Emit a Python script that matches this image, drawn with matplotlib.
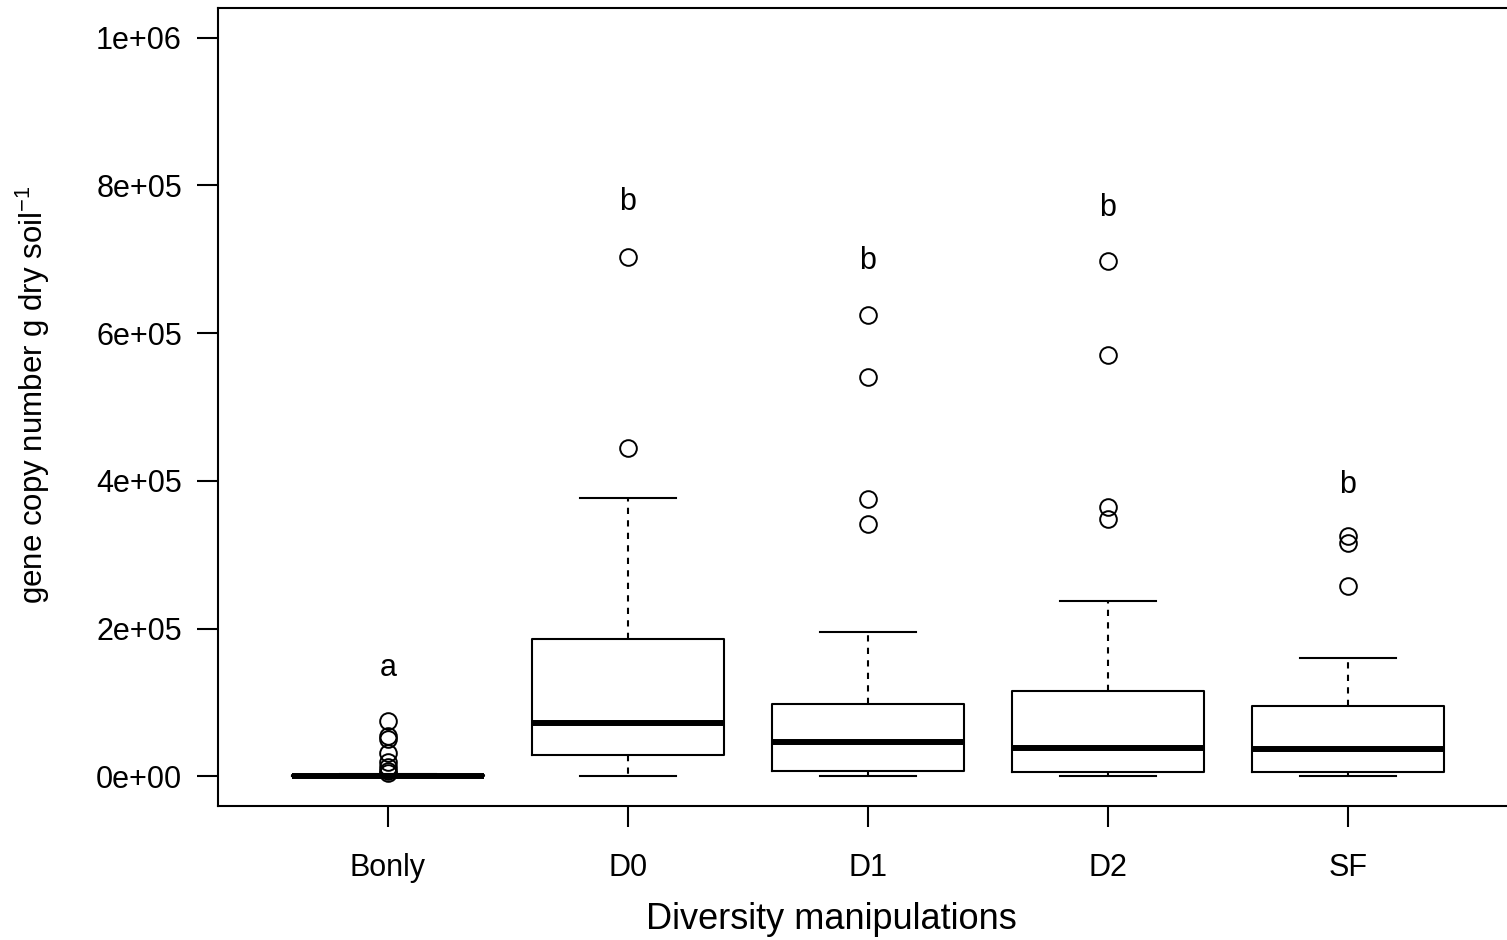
import numpy as np
import matplotlib.pyplot as plt

plt.rcParams["font.family"] = ["Liberation Sans", "DejaVu Sans"]

# ==========================================
# DATA
# ==========================================

groups = ["Bonly", "D0", "D1", "D2", "SF"]

q1 = [0, 28500, 6800, 5400, 5400]
med = [300, 73000, 46000, 39000, 36500]
q3 = [1500, 185500, 97500, 116000, 95000]
whislo = [0, 0, 0, 0, 0]
whishi = [3000, 377500, 195000, 237000, 160000]

outliers = [
    [75000, 55000, 51000, 32000, 20000, 13000, 8000, 4000],
    [445000, 703500],
    [341000, 376000, 541000, 624000],
    [348000, 365000, 570000, 697000],
    [258000, 316500, 326000],
]

letters = ["a", "b", "b", "b", "b"]
letter_y = [147000, 778000, 697000, 770000, 395000]

# ==========================================
# PLOT
# ==========================================

fig = plt.figure(figsize=(15.07, 9.40), dpi=100)
ax = fig.add_axes([218 / 1507, 1 - 806 / 940, (1516 - 218) / 1507, (806 - 8) / 940])

stats = []
for i, g in enumerate(groups):
    stats.append({
        "label": g,
        "q1": q1[i],
        "med": med[i],
        "q3": q3[i],
        "whislo": whislo[i],
        "whishi": whishi[i],
        "fliers": outliers[i],
    })

ax.bxp(
    stats,
    positions=np.arange(1, len(groups) + 1),
    widths=0.8,
    capwidths=0.4,
    boxprops=dict(color="black", linewidth=1.5),
    medianprops=dict(color="black", linewidth=4.3, solid_capstyle="butt"),
    whiskerprops=dict(color="black", linewidth=1.5, linestyle=(0, (3, 3))),
    capprops=dict(color="black", linewidth=1.5),
    flierprops=dict(marker="o", markerfacecolor="none", markeredgecolor="black",
                    markersize=12, markeredgewidth=1.4),
)

for i, (lab, yv) in enumerate(zip(letters, letter_y)):
    ax.text(i + 1, yv, lab, ha="center", va="center", fontsize=22)

ax.set_xlim(0.2917, 5.7)
ax.set_ylim(-40000, 1040000)

yt = [0, 200000, 400000, 600000, 800000, 1000000]
ax.set_yticks(yt)
ax.set_yticklabels(["0e+00", "2e+05", "4e+05", "6e+05", "8e+05", "1e+06"])
ax.set_xticks(np.arange(1, len(groups) + 1))
ax.set_xticklabels(groups)

ax.tick_params(axis="both", length=15, width=1.5, labelsize=22)
ax.tick_params(axis="y", pad=11)
ax.tick_params(axis="x", pad=19)

for sp in ax.spines.values():
    sp.set_linewidth(1.5)

ax.set_xlabel("Diversity manipulations", fontsize=26)
ax.xaxis.set_label_coords(0.4723, -0.12)
ax.set_ylabel("gene copy number g dry soil$^{\\mathregular{-1}}$", fontsize=22.5)
ax.yaxis.set_label_coords(-0.128, 0.516)

plt.savefig("out.png", dpi=100)
